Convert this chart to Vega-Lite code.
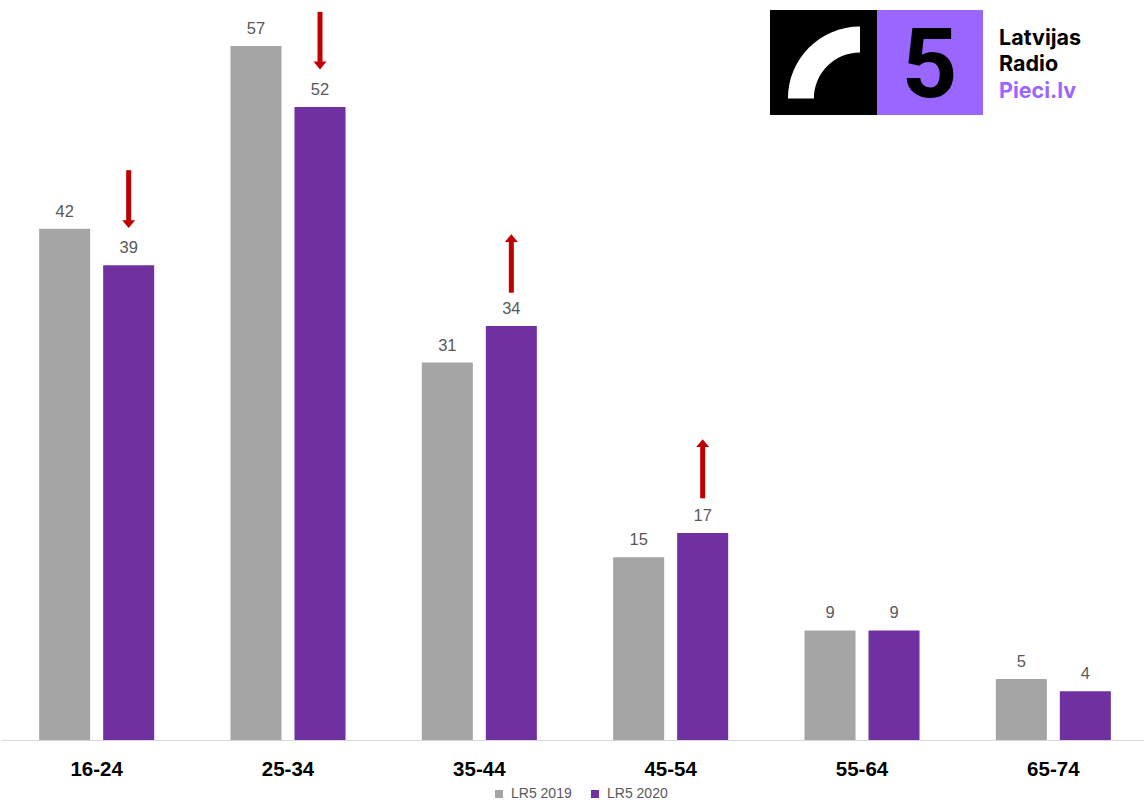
{
  "$schema": "https://vega.github.io/schema/vega-lite/v6.json",
  "width": 1144,
  "height": 740,
  "padding": 0,
  "autosize": {"type": "pad"},
  "background": "white",
  "config": {"view": {"stroke": null}, "font": "Liberation Sans"},
  "datasets": {
    "bars": [
      {"age": "16-24", "series": "LR5 2019", "value": 42},
      {"age": "16-24", "series": "LR5 2020", "value": 39},
      {"age": "25-34", "series": "LR5 2019", "value": 57},
      {"age": "25-34", "series": "LR5 2020", "value": 52},
      {"age": "35-44", "series": "LR5 2019", "value": 31},
      {"age": "35-44", "series": "LR5 2020", "value": 34},
      {"age": "45-54", "series": "LR5 2019", "value": 15},
      {"age": "45-54", "series": "LR5 2020", "value": 17},
      {"age": "55-64", "series": "LR5 2019", "value": 9},
      {"age": "55-64", "series": "LR5 2020", "value": 9},
      {"age": "65-74", "series": "LR5 2019", "value": 5},
      {"age": "65-74", "series": "LR5 2020", "value": 4}
    ],
    "arrows": [
      {"age": "16-24", "series": "LR5 2020", "start": 46.8, "end": 42.6, "head": 42.37, "dir": "down"},
      {"age": "25-34", "series": "LR5 2020", "start": 59.8, "end": 55.7, "head": 55.4, "dir": "down"},
      {"age": "35-44", "series": "LR5 2020", "start": 36.74, "end": 41.0, "head": 41.22, "dir": "up"},
      {"age": "45-54", "series": "LR5 2020", "start": 19.85, "end": 24.1, "head": 24.38, "dir": "up"}
    ],
    "logoBlack": [{"x": 770, "x2": 877, "y": 10, "y2": 115}],
    "logoPurple": [{"x": 877, "x2": 983, "y": 10, "y2": 115}],
    "logoRing": [{"x": 824, "y": 62.5}],
    "logoFive": [{"x": 929.5, "y": 97, "label": "5"}],
    "logoTextBlack": [
      {"x": 999, "y": 44.5, "label": "Latvijas"},
      {"x": 999, "y": 71, "label": "Radio"}
    ],
    "logoTextPurple": [{"x": 999, "y": 97.5, "label": "Pieci.lv"}]
  },
  "layer": [
    {
      "layer": [
        {
          "data": {"name": "bars"},
          "mark": {"type": "bar"},
          "encoding": {
            "x": {
              "field": "age", "type": "nominal", "sort": null,
              "scale": {"domain": ["16-24", "25-34", "35-44", "45-54", "55-64", "65-74"], "range": [1, 1149], "paddingInner": 0, "paddingOuter": 0},
              "axis": {"title": null, "domainColor": "#d9d9d9", "domainWidth": 1, "ticks": false, "grid": false, "labelAngle": 0, "labelFontSize": 20.5, "labelFontWeight": "bold", "labelColor": "#000000", "labelPadding": 19, "labelFont": "Liberation Sans"}
            },
            "xOffset": {"field": "series", "type": "nominal", "scale": {"domain": ["LR5 2019", "LR5 2020"], "paddingInner": 0.203, "paddingOuter": 0.596}},
            "y": {"field": "value", "type": "quantitative", "scale": {"domain": [0, 60.78], "nice": false, "zero": true}, "axis": null},
            "color": {
              "field": "series", "type": "nominal",
              "scale": {"domain": ["LR5 2019", "LR5 2020"], "range": ["#a5a5a5", "#7030a0"]},
              "legend": {"orient": "none", "legendX": 492, "legendY": 787, "direction": "horizontal", "title": null, "symbolType": "square", "symbolSize": 64, "symbolStrokeWidth": 0, "labelFontSize": 14, "labelColor": "#595959", "labelFont": "Liberation Sans", "columnPadding": 16, "labelOffset": 5, "padding": 0}
            }
          }
        },
        {
          "data": {"name": "bars"},
          "mark": {"type": "text", "dy": -12, "baseline": "alphabetic", "fontSize": 16.5, "color": "#595959", "font": "Liberation Sans"},
          "encoding": {
            "x": {"field": "age", "type": "nominal", "sort": null},
            "xOffset": {"field": "series", "type": "nominal"},
            "y": {"field": "value", "type": "quantitative"},
            "text": {"field": "value", "type": "quantitative"}
          }
        },
        {
          "data": {"name": "arrows"},
          "mark": {"type": "rule", "strokeWidth": 5, "color": "#c00000"},
          "encoding": {
            "x": {"field": "age", "type": "nominal", "sort": null},
            "xOffset": {"field": "series", "type": "nominal"},
            "y": {"field": "start", "type": "quantitative"},
            "y2": {"field": "end"}
          }
        },
        {
          "data": {"name": "arrows"},
          "mark": {"type": "point", "filled": true, "size": 169, "color": "#c00000", "opacity": 1, "strokeWidth": 0},
          "encoding": {
            "x": {"field": "age", "type": "nominal", "sort": null},
            "xOffset": {"field": "series", "type": "nominal"},
            "y": {"field": "head", "type": "quantitative"},
            "shape": {"field": "dir", "type": "nominal", "scale": {"domain": ["down", "up"], "range": ["M-1,-0.6L1,-0.6L0,0.6Z", "M-1,0.6L1,0.6L0,-0.6Z"]}, "legend": null}
          }
        }
      ]
    },
    {
      "layer": [
        {
          "data": {"name": "logoBlack"},
          "mark": {"type": "rect", "color": "#000000"},
          "encoding": {
            "x": {"field": "x", "type": "quantitative", "scale": {"domain": [0, 1144], "nice": false, "zero": false}, "axis": null},
            "x2": {"field": "x2"},
            "y": {"field": "y", "type": "quantitative", "scale": {"domain": [0, 740], "nice": false, "zero": false, "reverse": true}, "axis": null},
            "y2": {"field": "y2"}
          }
        },
        {
          "data": {"name": "logoPurple"},
          "mark": {"type": "rect", "color": "#9966ff"},
          "encoding": {
            "x": {"field": "x", "type": "quantitative"},
            "x2": {"field": "x2"},
            "y": {"field": "y", "type": "quantitative"},
            "y2": {"field": "y2"}
          }
        },
        {
          "data": {"name": "logoRing"},
          "mark": {"type": "point", "filled": true, "color": "#ffffff", "opacity": 1, "strokeWidth": 0, "size": 5184, "shape": "M-1,1A2,2 0 0 1 1,-1L1,-0.28A1.28,1.28 0 0 0 -0.28,1Z"},
          "encoding": {
            "x": {"field": "x", "type": "quantitative"},
            "y": {"field": "y", "type": "quantitative"}
          }
        },
        {
          "data": {"name": "logoFive"},
          "mark": {"type": "text", "font": "Roboto", "fontWeight": "bold", "fontSize": 97, "align": "center", "baseline": "alphabetic", "color": "#000000"},
          "encoding": {
            "x": {"field": "x", "type": "quantitative"},
            "y": {"field": "y", "type": "quantitative"},
            "text": {"field": "label"}
          }
        },
        {
          "data": {"name": "logoTextBlack"},
          "mark": {"type": "text", "font": "Inter", "fontWeight": "bold", "fontSize": 21.5, "align": "left", "baseline": "alphabetic", "color": "#000000"},
          "encoding": {
            "x": {"field": "x", "type": "quantitative"},
            "y": {"field": "y", "type": "quantitative"},
            "text": {"field": "label"}
          }
        },
        {
          "data": {"name": "logoTextPurple"},
          "mark": {"type": "text", "font": "Inter", "fontWeight": "bold", "fontSize": 21.5, "align": "left", "baseline": "alphabetic", "color": "#9966ff"},
          "encoding": {
            "x": {"field": "x", "type": "quantitative"},
            "y": {"field": "y", "type": "quantitative"},
            "text": {"field": "label"}
          }
        }
      ]
    }
  ],
  "resolve": {"scale": {"x": "independent", "y": "independent", "color": "independent", "shape": "independent"}}
}
